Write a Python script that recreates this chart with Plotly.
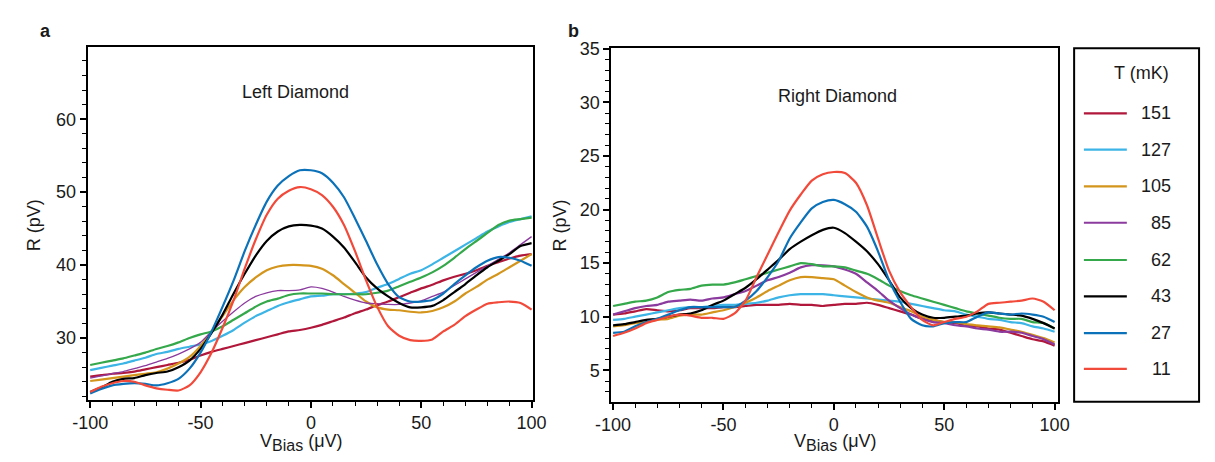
import plotly.graph_objects as go

W, H = 1215, 462

# ---------------- data ----------------
v_bias = list(range(-100, 101, 5))  # µV grid
temps = ["151", "127", "105", "85", "62", "43", "27", "11"]
colors = ["#B0173A", "#3CB4E5", "#D4951C", "#8B3A9E", "#34A84A", "#000000", "#0B72B9", "#F24A3A"]

left_151 = [24.7, 24.9, 25.1, 25.2, 25.4, 25.7, 26.0, 26.3, 26.6, 27.0, 27.6, 28.1, 28.5, 28.9, 29.3, 29.7, 30.1, 30.5, 30.9, 31.1, 31.4,
            31.8, 32.3, 32.8, 33.4, 33.9, 34.5, 35.0, 35.6, 36.2, 36.8, 37.3, 37.9, 38.4, 38.8, 39.3, 39.9, 40.4, 40.9, 41.3, 41.5]
left_127 = [25.6, 25.9, 26.2, 26.5, 26.9, 27.3, 27.8, 28.1, 28.5, 28.8, 29.1, 29.6, 30.3, 31.1, 32.1, 33.0, 33.7, 34.4, 34.9, 35.3, 35.7,
            35.8, 36.0, 36.0, 36.1, 36.3, 36.9, 37.4, 38.1, 38.8, 39.3, 40.1, 41.0, 41.9, 42.8, 43.7, 44.6, 45.3, 45.9, 46.3, 46.7]
left_105 = [24.1, 24.3, 24.5, 24.7, 24.9, 25.1, 25.3, 25.8, 26.5, 27.4, 28.9, 30.9, 33.0, 35.2, 37.0, 38.3, 39.3, 39.8, 40.0, 40.0, 39.9,
            39.5, 38.6, 37.4, 36.2, 35.0, 34.2, 33.9, 33.8, 33.6, 33.5, 33.7, 34.2, 35.0, 36.1, 37.0, 38.0, 38.8, 39.7, 40.6, 41.5]
left_85 = [24.5, 24.8, 25.1, 25.4, 25.8, 26.2, 26.7, 27.2, 27.8, 28.5, 29.4, 30.9, 32.3, 33.6, 34.8, 35.7, 36.2, 36.5, 36.5, 36.6, 37.0,
           36.8, 36.3, 35.7, 35.2, 34.8, 34.7, 34.6, 34.6, 34.8, 35.1, 35.7, 36.3, 37.2, 38.1, 39.0, 39.9, 40.8, 41.7, 42.8, 43.9]
left_62 = [26.3, 26.6, 26.9, 27.2, 27.6, 28.0, 28.5, 28.9, 29.4, 30.0, 30.5, 30.9, 31.6, 32.5, 33.4, 34.3, 35.0, 35.4, 35.9, 36.1, 36.1,
           36.1, 36.0, 36.0, 36.0, 36.0, 36.2, 36.5, 37.1, 37.7, 38.3, 39.0, 39.9, 41.0, 42.2, 43.3, 44.4, 45.5, 46.1, 46.3, 46.5]
left_43 = [22.6, 23.2, 24.0, 24.4, 24.5, 24.9, 25.2, 25.4, 26.0, 26.9, 28.5, 30.7, 33.2, 36.1, 38.8, 41.3, 43.3, 44.6, 45.3, 45.5, 45.4,
           45.0, 43.9, 42.4, 40.4, 38.3, 36.8, 35.7, 34.8, 34.2, 34.2, 34.4, 35.2, 36.3, 37.4, 38.6, 39.7, 40.6, 41.5, 42.6, 43.0]
left_27 = [22.4, 23.0, 23.5, 23.7, 23.8, 23.7, 23.5, 23.8, 24.4, 25.8, 28.0, 30.9, 34.3, 37.9, 41.9, 45.5, 48.7, 50.9, 52.2, 53.0, 53.0,
           52.6, 51.3, 49.3, 46.4, 43.3, 40.1, 37.4, 35.6, 35.0, 35.0, 35.2, 36.1, 37.4, 38.6, 39.7, 40.6, 41.1, 41.0, 40.6, 39.9]
left_11 = [22.6, 23.3, 23.8, 24.1, 24.0, 23.5, 23.1, 22.9, 22.8, 23.5, 25.3, 28.0, 31.4, 35.2, 39.5, 43.5, 46.9, 49.1, 50.2, 50.7, 50.4,
           49.6, 48.0, 45.5, 41.9, 37.9, 34.3, 31.6, 30.3, 29.7, 29.6, 29.8, 30.9, 31.8, 33.0, 33.9, 34.7, 34.9, 35.0, 34.8, 33.9]

right_151 = [10.2, 10.3, 10.5, 10.7, 10.6, 10.5, 10.6, 10.8, 10.8, 10.8, 10.9, 10.9, 11.0, 11.1, 11.1, 11.1, 11.2, 11.1, 11.1, 11.0, 11.1,
             11.2, 11.2, 11.3, 11.1, 10.8, 10.5, 10.2, 9.8, 9.7, 9.5, 9.4, 9.2, 9.1, 8.9, 8.8, 8.5, 8.2, 7.9, 7.7, 7.3]
right_127 = [9.7, 9.8, 10.0, 10.2, 10.4, 10.6, 10.8, 10.9, 10.9, 11.0, 11.1, 11.1, 11.2, 11.3, 11.5, 11.8, 12.0, 12.1, 12.1, 12.1, 12.0,
             11.9, 11.8, 11.7, 11.6, 11.5, 11.4, 11.2, 11.0, 10.8, 10.6, 10.5, 10.2, 10.0, 9.8, 9.7, 9.5, 9.4, 9.1, 8.9, 8.6]
right_105 = [9.1, 9.2, 9.4, 9.5, 9.7, 9.8, 10.1, 10.2, 10.2, 10.4, 10.6, 10.9, 11.3, 11.8, 12.4, 12.9, 13.4, 13.7, 13.7, 13.6, 13.5,
             12.9, 12.3, 11.8, 11.5, 11.3, 10.9, 10.5, 10.0, 9.7, 9.5, 9.5, 9.3, 9.2, 9.1, 9.0, 8.8, 8.6, 8.3, 8.0, 7.6]
right_85 = [10.2, 10.5, 10.8, 11.0, 11.1, 11.4, 11.5, 11.6, 11.5, 11.7, 11.8, 12.1, 12.4, 12.9, 13.4, 13.7, 14.1, 14.6, 14.8, 14.8, 14.7,
            14.4, 14.0, 13.2, 12.4, 11.5, 10.8, 10.2, 9.8, 9.5, 9.4, 9.2, 9.1, 8.9, 8.8, 8.6, 8.6, 8.5, 8.2, 7.9, 7.4]
right_62 = [11.0, 11.2, 11.4, 11.5, 11.8, 12.3, 12.5, 12.6, 12.9, 13.0, 13.0, 13.2, 13.5, 13.8, 14.1, 14.4, 14.7, 15.0, 14.9, 14.7, 14.7,
            14.6, 14.3, 14.0, 13.5, 12.9, 12.4, 12.0, 11.7, 11.4, 11.1, 10.8, 10.5, 10.3, 10.1, 9.9, 9.8, 9.8, 9.5, 9.4, 8.9]
right_43 = [9.2, 9.3, 9.5, 9.7, 9.8, 10.0, 10.2, 10.3, 10.6, 11.1, 11.5, 12.1, 12.7, 13.5, 14.4, 15.3, 16.3, 17.0, 17.6, 18.1, 18.3,
            17.8, 17.0, 16.1, 14.9, 13.4, 11.8, 10.8, 10.2, 9.9, 9.9, 10.0, 10.1, 10.3, 10.4, 10.3, 10.2, 10.1, 9.8, 9.4, 8.9]
right_27 = [8.5, 8.6, 9.1, 9.5, 9.8, 10.2, 10.6, 10.9, 10.9, 10.9, 10.9, 10.9, 11.5, 12.4, 13.7, 15.2, 17.3, 18.8, 20.1, 20.7, 20.9,
            20.5, 19.8, 18.4, 16.1, 13.4, 11.4, 9.8, 9.2, 9.1, 9.4, 9.5, 9.5, 10.0, 10.4, 10.3, 10.2, 10.3, 10.2, 10.0, 9.5]
right_11 = [8.2, 8.5, 8.9, 9.4, 9.7, 10.0, 10.2, 10.1, 9.9, 9.9, 9.8, 10.3, 11.5, 13.7, 15.8, 17.9, 19.9, 21.4, 22.7, 23.3, 23.5,
            23.4, 22.5, 20.4, 17.3, 14.3, 12.3, 10.9, 9.7, 9.2, 9.5, 9.8, 10.0, 10.5, 11.2, 11.3, 11.4, 11.5, 11.7, 11.4, 10.6]

left_series = [left_151, left_127, left_105, left_85, left_62, left_43, left_27, left_11]
right_series = [right_151, right_127, right_105, right_85, right_62, right_43, right_27, right_11]

x_tickvals = [-100, -50, 0, 50, 100]
x_ticktext = ["-100", "-50", "0", "50", "100"]
left_y_ticks = [30, 40, 50, 60]
right_y_ticks = [5, 10, 15, 20, 25, 30, 35]

# ---------------- figure ----------------
FONT = "Arial, 'Liberation Sans', sans-serif"
TXT = "#1a1a1a"


def px(x):
    return x / W


def py(y):
    return 1 - y / H


fig = go.Figure()
for i, (t, c) in enumerate(zip(temps, colors)):
    lw_left = 1.3 if t == "85" else 2.2
    fig.add_trace(go.Scatter(x=v_bias, y=left_series[i], mode="lines", name=t,
                             line=dict(color=c, width=lw_left, shape="spline", smoothing=0.6),
                             xaxis="x", yaxis="y", showlegend=False))
for i, (t, c) in enumerate(zip(temps, colors)):
    fig.add_trace(go.Scatter(x=v_bias, y=right_series[i], mode="lines", name=t,
                             line=dict(color=c, width=2.2, shape="spline", smoothing=0.6),
                             xaxis="x2", yaxis="y2", showlegend=False))

axis_common = dict(showline=True, mirror=True, linecolor="black", linewidth=2,
                   ticks="outside", ticklen=6, tickwidth=1.5, tickcolor="black",
                   showgrid=False, zeroline=False,
                   tickfont=dict(family=FONT, size=18, color=TXT))
minor_x = dict(ticks="outside", ticklen=4, tickwidth=1, tickcolor="black", dtick=10, tick0=0)

fig.update_layout(
    width=W, height=H,
    margin=dict(l=0, r=0, t=0, b=0),
    paper_bgcolor="white", plot_bgcolor="white",
    xaxis=dict(domain=[px(73.3), px(530)], range=[-101.2, 100.8],
               tickvals=x_tickvals, ticktext=x_ticktext, minor=minor_x,
               anchor="y", **axis_common),
    yaxis=dict(domain=[py(398.3), py(39)], range=[21.56, 69.87],
               tickvals=left_y_ticks,
               minor=dict(ticks="outside", ticklen=4, tickwidth=1, tickcolor="black", dtick=2, tick0=0),
               anchor="x", **axis_common),
    xaxis2=dict(domain=[px(610), px(1067.3)], range=[-100.75, 101.45],
                tickvals=x_tickvals, ticktext=x_ticktext, minor=minor_x,
                anchor="y2", **axis_common),
    yaxis2=dict(domain=[py(400.5), py(40)], range=[2.07, 35.05],
                tickvals=right_y_ticks,
                minor=dict(ticks="outside", ticklen=4, tickwidth=1, tickcolor="black", dtick=1, tick0=0),
                anchor="x2", **axis_common),
)

ann = []


def add_text(x, y, text, size=18, bold=False, xanchor="center", yanchor="middle", angle=0):
    ann.append(dict(x=px(x), y=py(y), xref="paper", yref="paper", text=f"<b>{text}</b>" if bold else text,
                    showarrow=False, xanchor=xanchor, yanchor=yanchor, textangle=angle,
                    font=dict(family=FONT, size=size, color=TXT)))


xtitle = 'V<sub><span style="font-size:16px">Bias</span></sub> (μV)'
add_text(30, 22, "a", size=18, bold=True)
add_text(571, 22, "b", size=18, bold=True)
add_text(286, 85, "Left Diamond")
add_text(842, 89, "Right Diamond")
add_text(18, 221, "R (pV)", angle=-90)
add_text(557, 221, "R (pV)", angle=-90)
add_text(292, 428, xtitle, yanchor="top")
add_text(840, 428, xtitle, yanchor="top")

# legend box (manual)
shapes = [dict(type="rect", xref="paper", yref="paper", x0=px(1084), x1=px(1212), y0=py(400.5), y1=py(40),
               line=dict(color="black", width=2), fillcolor="rgba(0,0,0,0)")]
add_text(1153, 65, "T (mK)")
leg_y = [106.5, 143.5, 181, 218, 256, 293, 330.5, 367]
for t, c, yy in zip(temps, colors, leg_y):
    shapes.append(dict(type="line", xref="paper", yref="paper", x0=px(1094), x1=px(1138), y0=py(yy), y1=py(yy),
                       line=dict(color=c, width=2.2)))
    add_text(1185, yy, t, xanchor="right")

fig.update_layout(annotations=ann, shapes=shapes)
fig.write_html("out.html")
